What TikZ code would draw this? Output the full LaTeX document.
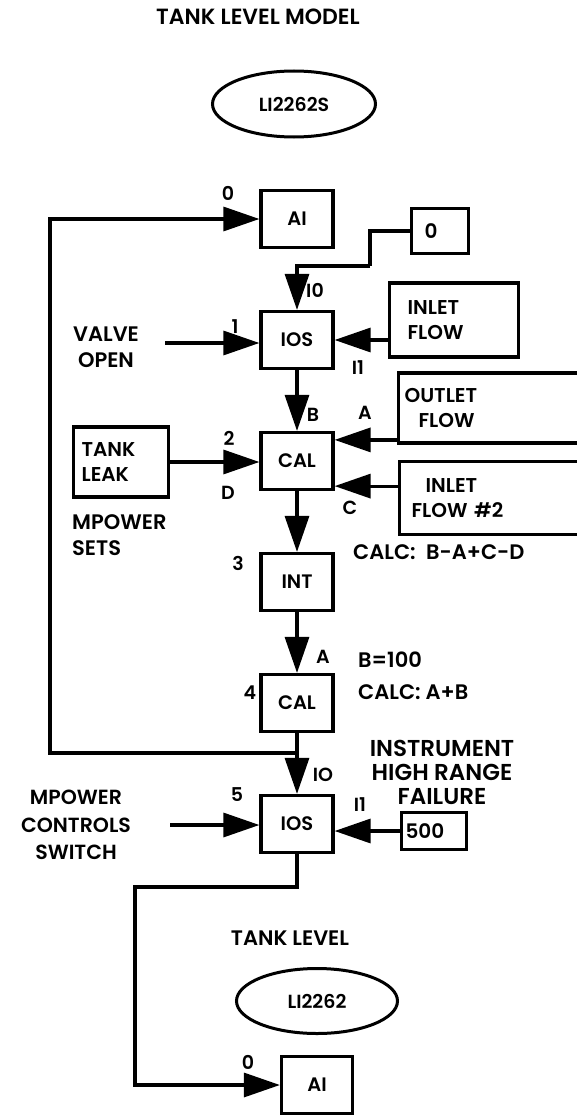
\documentclass[tikz,border=0pt]{standalone}
\usepackage{fontspec}
\setmainfont{Poppins}[UprightFont=* SemiBold]
\usetikzlibrary{positioning}
\usetikzlibrary{arrows.meta}
\usetikzlibrary{shapes.geometric}
\tikzset{
    node distance=121pt,
    blk/.style={
        draw,
        line width=3.2pt,
        minimum width=72pt,
        minimum height=57pt,
        inner sep=0pt,
        font=\fontsize{19.5}{22}\selectfont
    },
    src/.style={
        draw,
        line width=3.2pt,
        anchor=west,
        align=left,
        inner ysep=0pt,
        font=\fontsize{20}{25}\selectfont
    },
    tag/.style={
        inner sep=0pt,
        font=\fontsize{19}{22}\selectfont
    },
    txt/.style={
        inner sep=0pt,
        font=\fontsize{21}{26}\selectfont
    },
    tagname/.style={
        draw,
        ellipse,
        line width=3pt,
        inner sep=0pt,
        font=\fontsize{19}{22}\selectfont
    },
    wire/.style={
        draw,
        line width=3.2pt
    },
    flow/.style={
        wire,
        -{Triangle[length=36pt,width=24pt]}
    }
}

\begin{document}
\begin{tikzpicture}[x=1pt, y=-1pt]
            \useasboundingbox (0,0) rectangle (577,1116);

            \node[txt, font=\fontsize{22}{26}\selectfont] (title) at (258,17) {TANK LEVEL MODEL};
            \node[tagname, minimum width=163pt, minimum height=66pt] (tagin) at (294,104) {LI2262S};

            % main column
            \node[blk] (ai1) at (297,219) {AI};
            \node[blk, below of = ai1] (ios1) {IOS};
            \node[blk, below of = ios1] (cal2) {CAL};
            \node[blk, below of = cal2] (int3) {INT};
            \node[blk, below of = int3] (cal4) {CAL};
            \node[blk, below of = cal4] (ios5) {IOS};

            % inputs
            \node[src, minimum height=45pt, text width=31pt, inner xsep=13pt] (zero) at (410,231) {0};
            \node[src, minimum height=74pt, text width=93pt, inner xsep=18pt] (inlet) at (388,320) {INLET\\FLOW};
            \node[src, minimum height=70pt, text width=180pt, inner xsep=6pt] (outlet) at (397,408) {OUTLET\\\hspace*{14pt}FLOW};
            \node[src, minimum height=73pt, text width=180pt, inner xsep=6pt] (inlet2) at (398,498) {\hspace*{20pt}INLET\\\hspace*{6pt}FLOW \#2};
            \node[src, minimum height=70pt, text width=79pt, inner xsep=8pt] (leak) at (72,462) {TANK\\LEAK};
            \node[src, minimum height=37pt, text width=57pt, inner xsep=4pt] (hirange) at (400,831) {500};

            \node[txt, align=center] (valve) at (106,347) {VALVE\\OPEN};
            \node[txt, align=left, anchor=west] (msets) at (72,535) {MPOWER\\SETS};
            \node[txt, anchor=west] (calc2) at (353,552) {CALC:\enspace B-A+C-D};
            \node[txt, anchor=west, align=left, font=\fontsize{21}{32}\selectfont] (calc4) at (358,676) {B=100\\CALC: A+B};
            \node[txt, align=center, font=\fontsize{23}{24}\selectfont] (instr) at (442,772) {INSTRUMENT\\HIGH RANGE\\FAILURE};
            \node[txt, align=center, font=\fontsize{20.5}{27.5}\selectfont] (mctl) at (76,825) {MPOWER\\CONTROLS\\SWITCH};
            \node[txt] (tlevel) at (290,938) {TANK LEVEL};

            \node[tagname, minimum width=161pt, minimum height=65pt] (tagout) at (317,1001) {LI2262};
            \node[blk, minimum width=71pt] (ai6) at (317,1085) {AI};

            % block numbers
            \node[tag] (n0) at (228,193) {0};
            \node[tag] (n1) at (235,327) {1};
            \node[tag] (n2) at (229,438) {2};
            \node[tag] (n3) at (238,563) {3};
            \node[tag] (n4) at (250,693) {4};
            \node[tag] (n5) at (237,795) {5};
            \node[tag] (n6) at (248,1062) {0};

            % input letters
            \node[tag] (pi0) at (315,290) {I0};
            \node[tag] (pi1) at (358,368) {I1};
            \node[tag] (pb) at (313,415) {B};
            \node[tag] (pa) at (365,413) {A};
            \node[tag] (pd) at (228,493) {D};
            \node[tag] (pc) at (350,508) {C};
            \node[tag] (pa4) at (323,657) {A};
            \node[tag] (pio) at (323,775) {IO};
            \node[tag] (pi15) at (360,805) {I1};

            \coordinate (k1) at (370,266);
            \coordinate (fbj) at (297,753);
            \coordinate (fb) at (50,753);
            \coordinate (k2) at (135,887);
            \coordinate (vin) at (165,343);
            \coordinate (min) at (170,825);
            \coordinate (c2a) at ([yshift=-9pt]cal2.north east);
            \coordinate (c2c) at ([yshift=5pt]cal2.south east);

            \draw[wire] (zero.west) -| (k1);
            \draw[flow] (k1) -| (ios1.north);
            \draw[flow] (vin) -- (vin -| ios1.west);
            \draw[flow] (inlet.west |- ios1.east) -- (ios1.east);
            \draw[flow] (ios1) -- (cal2);
            \draw[flow] (outlet.south west |- c2a) -- (c2a);
            \draw[flow] (c2c -| inlet2.west) -- (c2c);
            \draw[flow] (leak.east) -- (leak.east -| cal2.west);
            \draw[flow] (cal2) -- (int3);
            \draw[flow] (int3) -- (cal4);
            \draw[flow] (cal4) -- (ios5);
            \draw[flow] (fbj) -- (fb) |- (ai1.west);
            \draw[flow] (min) -- (min -| ios5.west);
            \draw[flow] (hirange.west) -- (hirange.west -| ios5.east);
            \draw[flow] (ios5.south) |- (k2) |- (ai6.west);
        \end{tikzpicture}
\end{document}
